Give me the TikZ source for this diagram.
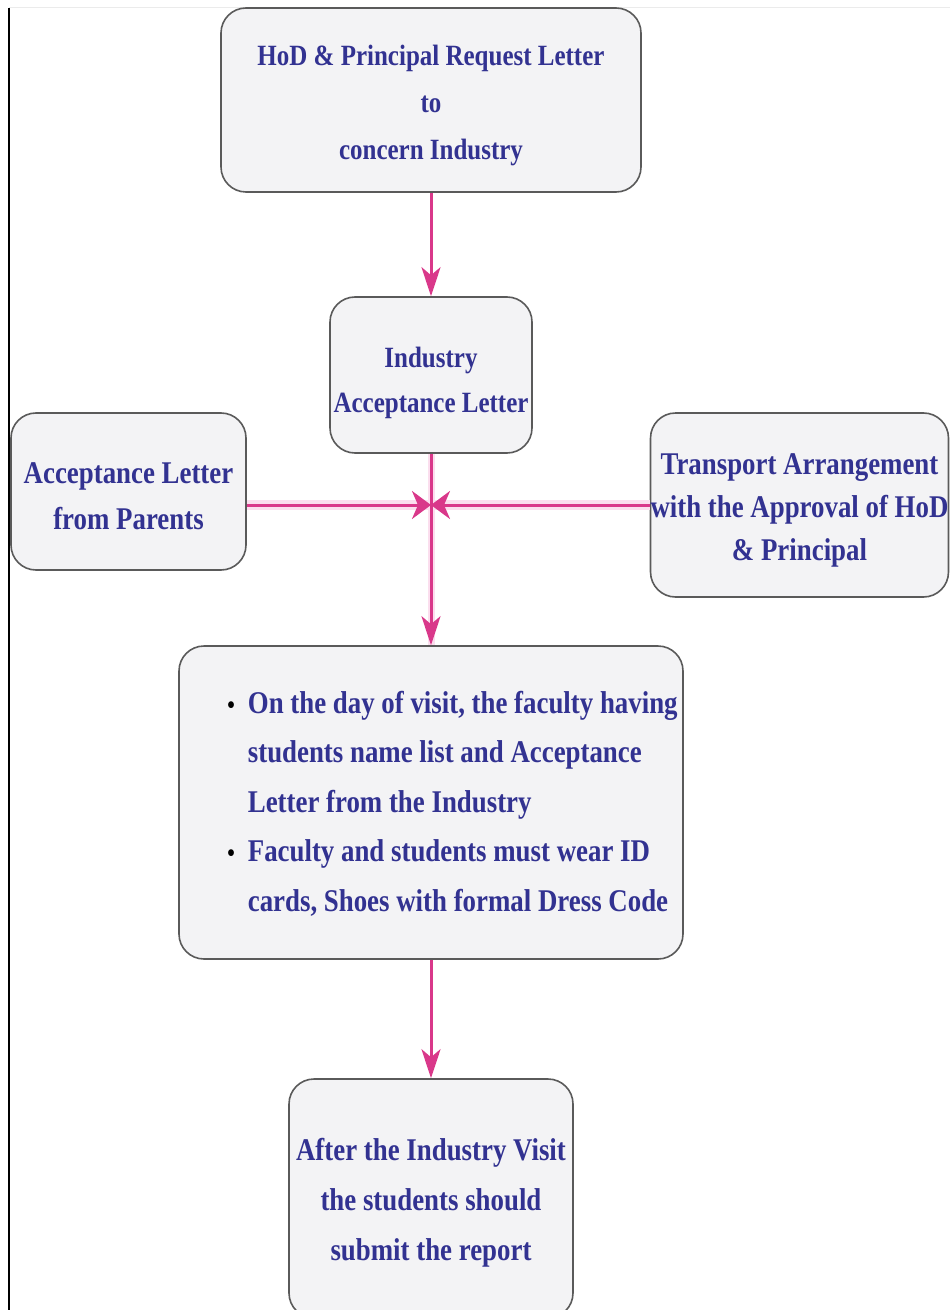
\documentclass[tikz,border=0pt]{standalone}
\usepackage{fontspec}
\setmainfont{Liberation Serif}[FakeStretch=0.85]
\usetikzlibrary{arrows.meta}
\definecolor{txt}{RGB}{50,50,145}
\definecolor{boxfill}{RGB}{243,243,245}
\definecolor{boxline}{RGB}{90,90,90}
\definecolor{arr}{RGB}{217,56,138}
\definecolor{glow}{RGB}{251,222,238}
\newcommand{\upstrut}[1]{\rule{0pt}{#1}}
\newcommand{\blt}{{\color{black}\scalebox{0.8}{\textbullet}}}
\begin{document}
\begin{tikzpicture}[x=0.5pt,y=-0.5pt,
  box/.style={draw=boxline, line width=0.8pt, fill=boxfill, rounded corners=12.5pt,
    align=center, text=txt, inner sep=0pt},
  fbig/.style={font=\bfseries\fontsize{15.8pt}{23pt}\selectfont},
  fsmall/.style={font=\bfseries\fontsize{14.7pt}{23.5pt}\selectfont},
  flow/.style={draw=arr, line width=1.5pt},
  halo/.style={draw=glow, line width=5pt},
  vtip/.style={-{Stealth[length=14.5pt,width=9.5pt,inset=4pt]}},
  htip/.style={-{Stealth[length=9.5pt,width=14pt,inset=3pt]}}]
\useasboundingbox (0,0) rectangle (950,1310);
\clip (0,0) rectangle (950,1310);

% frame lines
\draw[black!8, line width=0.5pt] (9,8) -- (950,8);
\draw[black, line width=1.1pt] (9,8) -- (9,1310);

% boxes
\node[box, fsmall, minimum width=210pt, minimum height=92pt] (top) at (431,100)
  {\upstrut{16pt}HoD \& Principal Request Letter\\to\\concern Industry};
\node[box, font=\bfseries\fontsize{14.7pt}{22.5pt}\selectfont,
  minimum width=101pt, minimum height=78pt] (ind) at (431,375)
  {\upstrut{18pt}Industry\\Acceptance Letter};
\node[box, fbig, minimum width=117.5pt, minimum height=78.5pt] (left) at (128.5,491.5)
  {\upstrut{15.5pt}Acceptance Letter\\from Parents};
\node[box, font=\bfseries\fontsize{15.8pt}{21.5pt}\selectfont,
  minimum width=148.5pt, minimum height=92pt] (right) at (799.5,505)
  {\upstrut{16pt}Transport Arrangement\\with the Approval of HoD\\\& Principal};
\node[box, font=\bfseries\fontsize{15.8pt}{24.75pt}\selectfont,
  minimum width=252pt, minimum height=156.5pt] (mid) at (431,802.5)
  {\hspace*{21.5pt}\begin{tabular}{@{}l@{\hspace{6.5pt}}l@{}}
   \blt & \upstrut{15pt}On the day of visit, the faculty having\\
    & students name list and Acceptance\\
    & Letter from the Industry\\
   \blt & Faculty and students must wear ID\\
    & cards, Shoes with formal Dress Code
  \end{tabular}};
\node[box, font=\bfseries\fontsize{15.8pt}{25pt}\selectfont,
  minimum width=142pt, minimum height=119.5pt] (bot) at (431,1198.5)
  {\upstrut{15pt}After the Industry Visit\\the students should\\submit the report};

\coordinate (j) at (ind.south |- right.west);

% glow
\draw[halo] (left.east |- j) -- (right.west);
\draw[halo, line width=3.5pt] (ind.south) -- (mid.north);

% connectors
\draw[flow, vtip] (top.south) -- (ind.north);
\draw[flow, vtip] (ind.south) -- (mid.north);
\draw[flow, htip] (left.east |- j) -- (j);
\draw[flow, htip] (right.west) -- (j);
\draw[flow, vtip] (mid.south) -- (bot.north);
\end{tikzpicture}
\end{document}
